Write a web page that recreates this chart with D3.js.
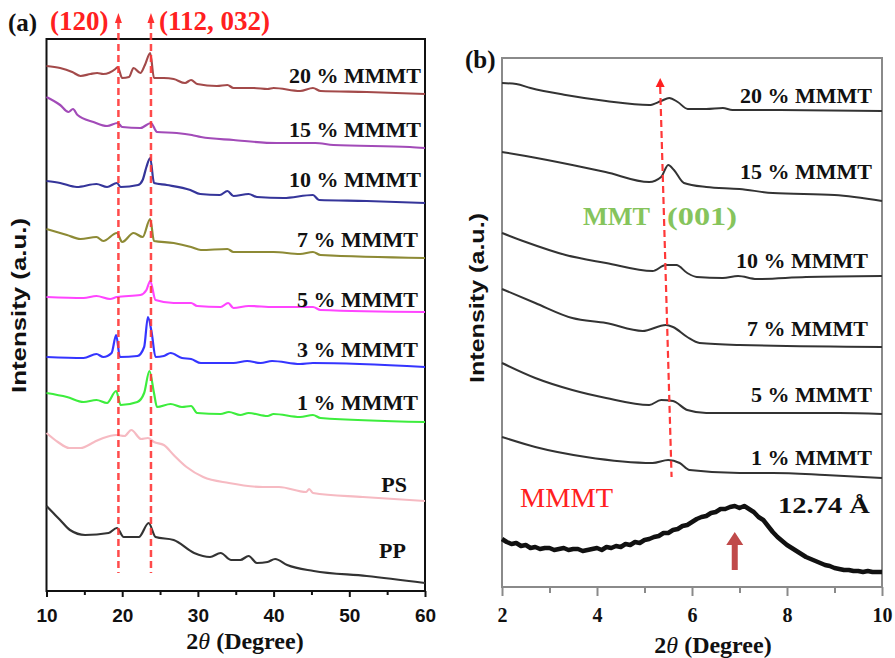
<!DOCTYPE html>
<html>
<head>
<meta charset="utf-8">
<script src="https://cdn.jsdelivr.net/npm/d3@7"></script>
<style>
  body { margin: 0; background: #fff; }
  svg { display: block; }
</style>
</head>
<body>
<svg id="chart" width="895" height="658"></svg>
<script>
// ---------- Panel (a): wide-angle XRD, 2θ = 10–60°, stacked traces (a.u.) ----------
const a20 = [[10,52.5],[11.8,52.3],[13.4,51.9],[14.5,51.5],[15.8,51.7],[16.7,51.8],[17.5,51.7],[19.1,52.2],[19.4,52.4],[20.0,51.3],[20.9,51.4],[21.5,52.3],[22.4,51.8],[23.0,52.6],[23.7,53.8],[24.2,51.3],[25.5,51.3],[26.8,51.2],[28.3,50.8],[29.1,51.1],[29.9,50.7],[32.5,50.5],[33.9,50.6],[34.7,50.3],[37.4,50.3],[39.2,50.2],[40.0,50.3],[43.5,50.0],[45.2,50.3],[46.2,50.0],[52.3,49.9],[60,49.7]];
const a15 = [[10,49.4],[11.8,48.6],[12.9,47.9],[13.5,48.2],[14.1,47.6],[16.2,46.9],[18.0,46.5],[19.4,46.8],[20.0,46.4],[22.4,46.3],[23.8,46.8],[24.6,45.9],[27.2,45.8],[29.2,45.6],[30.4,45.4],[34.7,45.1],[40.4,44.8],[45.5,44.8],[47.9,44.6],[58.0,44.4],[60,44.3]];
const a10 = [[10,41.0],[11.8,40.8],[14.0,40.4],[16.6,40.7],[18.0,40.4],[19.3,40.8],[19.8,40.4],[22.1,40.6],[22.7,41.1],[23.2,42.4],[23.7,43.3],[24.2,40.8],[25.9,40.6],[29.0,40.1],[30.3,39.7],[32.9,39.6],[33.9,40.0],[34.7,39.5],[36.7,39.7],[37.8,39.4],[41.3,39.3],[45.2,39.6],[46.0,39.1],[52.3,39.0],[60,38.8]];
const a7 = [[10,36.2],[12.7,35.6],[14.5,35.2],[16.6,35.4],[17.5,35.0],[19.3,35.8],[20.0,34.9],[21.5,35.8],[22.7,35.4],[23.7,37.2],[24.2,35.0],[26.8,34.8],[29.1,34.4],[30.4,34.1],[33.9,34.2],[34.7,33.9],[40.0,33.9],[43.5,33.7],[45.2,33.9],[46.2,33.6],[60,33.3]];
const a5 = [[10,29.4],[14.9,29.3],[16.6,29.5],[18.4,29.2],[19.3,29.4],[22.4,29.6],[23.2,30.1],[23.7,31.0],[24.4,29.1],[26.8,28.8],[29.1,28.8],[29.9,28.5],[33.0,28.4],[34.0,28.8],[34.7,28.3],[36.7,28.5],[40.0,28.4],[45.2,28.4],[46.2,28.1],[60,27.9]];
const a3 = [[10,23.4],[14.9,23.3],[16.6,23.7],[17.5,23.4],[18.6,23.8],[19.2,25.6],[19.7,23.4],[22.0,23.5],[22.9,24.4],[23.4,27.4],[23.9,25.8],[24.4,23.4],[25.5,23.5],[26.4,23.8],[27.9,23.3],[29.1,23.2],[30.4,22.8],[34.7,22.8],[36.5,23.0],[38.3,22.8],[39.8,23.0],[43.5,22.7],[45.2,22.8],[60,22.4]];
const a1 = [[10,19.8],[12.7,19.4],[14.9,18.9],[16.6,19.1],[18.0,18.8],[19.2,20.0],[19.8,18.6],[22.0,18.9],[22.9,19.8],[23.6,22.0],[24.2,19.8],[24.6,18.4],[26.4,18.7],[27.9,18.4],[29.1,18.5],[29.9,17.8],[33.0,17.7],[34.1,17.9],[35.6,17.6],[36.7,17.8],[39.2,17.5],[40.0,17.7],[43.5,17.4],[45.2,17.6],[46.2,17.3],[60,16.9]];
const aPS = [[10,15.8],[11.5,14.9],[13.0,14.3],[14.5,14.3],[16.3,14.9],[17.5,15.3],[19.2,15.6],[20.3,15.5],[21.2,16.1],[22.5,15.2],[23.4,15.3],[24.2,14.9],[25.5,14.6],[26.8,13.6],[28.5,12.4],[30.7,11.4],[34.1,10.8],[38.6,10.4],[40.7,10.4],[44.3,9.9],[44.7,10.2],[45.2,9.8],[51.8,9.4],[60,9.0]];
const aPP = [[10,8.5],[10.9,7.8],[11.8,7.1],[13.1,6.1],[15.1,5.6],[18.2,5.8],[19.3,6.3],[20.2,5.4],[22.2,5.4],[23.5,6.8],[24.4,5.4],[26.8,5.1],[29.5,3.8],[31.6,3.4],[33.0,3.8],[34.4,3.1],[35.6,3.1],[36.7,3.5],[37.8,2.8],[39.2,2.9],[40.2,3.2],[41.8,2.6],[45.3,2.0],[52.3,1.5],[60,0.8]];

const namesA  = ["20 % MMMT","15 % MMMT","10 % MMMT","7 % MMMT","5 % MMMT","3 % MMMT","1 % MMMT","PS","PP"];
const colorsA = ["#a34a4a","#a24bb8","#35359a","#8d8a35","#ff45ff","#3535ff","#3ded3d","#f6bac2","#333333"];
const seriesA = [a20, a15, a10, a7, a5, a3, a1, aPS, aPP];
const ticksA  = [10, 20, 30, 40, 50, 60];
const peaksA  = [19.5, 23.8];                 // (120) and (112, 032) reflections
const peakNamesA = ["(120)", "(112, 032)"];

// ---------- Panel (b): small-angle XRD, 2θ = 2–10° ----------
const b20 = [[2.0,50.4],[2.3,50.3],[2.6,49.9],[3.34,49.2],[4.19,48.6],[5.1,48.2],[5.35,48.6],[5.52,48.9],[5.7,48.5],[5.91,47.8],[6.3,47.8],[6.65,47.9],[6.85,47.7],[7.7,47.7],[10,47.6]];
const b15 = [[2.0,43.5],[2.5,43.1],[3.48,42.2],[4.18,41.5],[5.1,40.5],[5.35,41.0],[5.5,42.2],[5.62,41.7],[5.83,40.4],[6.3,40.0],[7.0,39.8],[7.7,39.4],[9.0,39.2],[10,38.6]];
const b10 = [[2.0,35.4],[2.5,34.5],[3.34,33.2],[4.19,32.4],[5.17,31.6],[5.45,32.2],[5.67,32.2],[5.9,31.4],[6.1,31.0],[6.65,30.9],[6.97,31.1],[7.36,30.8],[8.4,31.0],[10,31.1]];
const b7  = [[2.0,29.8],[2.7,28.4],[3.48,26.9],[4.19,26.4],[4.96,25.6],[5.45,26.2],[5.6,26.0],[5.9,25.0],[6.16,24.4],[7.0,24.2],[10,24.0]];
const b5  = [[2.0,22.4],[2.7,20.9],[3.48,19.7],[4.19,18.9],[5.1,18.2],[5.35,18.7],[5.6,18.6],[5.9,17.7],[6.3,17.4],[7.7,17.4],[9.1,17.4],[10,17.3]];
const b1  = [[2.0,15.0],[2.7,14.0],[3.77,13.0],[5.17,12.4],[5.5,12.7],[5.74,12.4],[5.95,11.7],[7.0,11.4],[7.7,11.4],[8.8,11.2],[10,10.9]];
const bMMMT = [[2.0,4.8],[2.1,4.5],[2.2,4.3],[2.3,4.4],[2.4,4.1],[2.5,4.2],[2.6,3.9],[2.7,4.0],[2.8,3.8],[2.9,3.9],[3.0,3.9],[3.1,3.7],[3.2,3.8],[3.3,3.9],[3.4,3.7],[3.5,3.8],[3.6,3.8],[3.7,3.6],[3.8,3.7],[3.9,3.8],[4.0,3.9],[4.1,3.7],[4.2,4.0],[4.3,3.9],[4.4,4.1],[4.5,4.0],[4.6,4.3],[4.7,4.2],[4.8,4.5],[4.9,4.4],[5.0,4.7],[5.1,4.8],[5.2,5.0],[5.3,5.1],[5.4,5.4],[5.5,5.4],[5.6,5.7],[5.7,5.8],[5.8,6.1],[5.9,6.2],[6.0,6.5],[6.1,6.8],[6.2,7.0],[6.3,7.1],[6.4,7.4],[6.5,7.5],[6.6,7.8],[6.7,7.8],[6.8,8.0],[6.9,8.1],[7.0,7.9],[7.1,8.1],[7.2,7.8],[7.3,7.5],[7.4,7.0],[7.5,6.7],[7.6,6.1],[7.7,5.5],[7.8,5.0],[7.9,4.6],[8.0,4.2],[8.1,3.9],[8.2,3.6],[8.3,3.3],[8.4,3.0],[8.5,2.8],[8.6,2.6],[8.7,2.4],[8.8,2.2],[8.9,2.1],[9.0,1.9],[9.1,1.8],[9.2,1.7],[9.3,1.7],[9.4,1.6],[9.5,1.6],[9.6,1.5],[9.7,1.6],[9.8,1.5],[9.9,1.5],[10.0,1.5]];

const namesB  = ["20 % MMMT","15 % MMMT","10 % MMMT","7 % MMMT","5 % MMMT","1 % MMMT"];
const seriesB = [b20, b15, b10, b7, b5, b1];
const ticksB  = [2, 4, 6, 8, 10];
const mmtPeakB = [[5.33, 50.9], [5.57, 11.0]];   // MMT (001) shift guide (top, bottom)
const clayPeak = 6.9;                              // pristine clay d001 = 12.74 Å

// ---------- layout ----------
const SERIF = "'Liberation Serif','Times New Roman',serif";
const SANS  = "'Liberation Sans',Arial,sans-serif";
const svg = d3.select("#chart");

const xA = d3.scaleLinear().domain([10, 60]).range([46.5, 425]);
const yA = d3.scaleLinear().domain([0, 55.2]).range([591, 39]);
const xB = d3.scaleLinear().domain([2, 10]).range([502, 882]);
const yB = d3.scaleLinear().domain([0, 52.9]).range([587, 58]);

// label baselines (intensity units) for the trace names
const labelLevelA = [50.8, 45.4, 40.4, 34.4, 28.4, 23.4, 18.1, 9.9, 3.3];
const labelRightA = [421, 421, 421, 418, 418, 418, 418, 407, 406];
const labelLevelB = [48.4, 40.8, 31.9, 25.1, 18.5, 12.2];
const labelRightB = [872, 872, 868, 868, 872, 872];

function drawPanel(x, y, frameColor, ticks, minorTicks, majorLen, minorLen, tickFont, tickY) {
  const [x0, x1] = x.range();
  const [yb, yt] = y.range();
  const g = svg.append("g");
  // minor ticks
  g.append("g").attr("transform", `translate(0,${yb})`)
    .call(d3.axisBottom(x).tickValues(minorTicks).tickSize(minorLen).tickFormat(""))
    .call(a => a.select(".domain").remove())
    .selectAll("line").attr("stroke", frameColor).attr("stroke-width", 2);
  // major ticks + labels
  const ax = g.append("g").attr("transform", `translate(0,${yb})`)
    .call(d3.axisBottom(x).tickValues(ticks).tickSize(majorLen).tickFormat(d3.format("d")));
  ax.select(".domain").remove();
  ax.selectAll("line").attr("stroke", frameColor).attr("stroke-width", 2);
  ax.selectAll("text").attr("y", tickY).attr("dy", null)
    .attr("fill", "#111").style("font", tickFont);
  // frame
  g.append("rect").attr("x", x0).attr("y", yt).attr("width", x1 - x0).attr("height", yb - yt)
    .attr("fill", "none").attr("stroke", frameColor).attr("stroke-width", 2);
  return g;
}

const line = (x, y, curve) => d3.line().x(d => x(d[0])).y(d => y(d[1])).curve(curve);

// ---- Panel (a) ----
drawPanel(xA, yA, "#111", ticksA, [15, 25, 35, 45, 55], 6, 4, `bold 19px ${SANS}`, 31);

const gA = svg.append("g");
seriesA.forEach((s, i) => {
  gA.append("path").datum(s)
    .attr("d", line(xA, yA, d3.curveMonotoneX))
    .attr("fill", "none").attr("stroke", colorsA[i]).attr("stroke-width", 2.2)
    .attr("stroke-linejoin", "round");
  gA.append("text").attr("x", labelRightA[i]).attr("y", yA(labelLevelA[i]))
    .attr("text-anchor", "end").attr("fill", "#111")
    .style("font", `bold 22px ${SERIF}`).text(namesA[i]);
});

// reflection guides with arrowheads
const guideTop = 56.9, guideTip = 57.8, guideBottom = 1.8;
peaksA.forEach(p => {
  gA.append("line").attr("x1", xA(p)).attr("x2", xA(p))
    .attr("y1", yA(guideTop)).attr("y2", yA(guideBottom))
    .attr("stroke", "#ff3838").attr("stroke-width", 2.5).attr("stroke-dasharray", "7,4")
    .attr("opacity", 0.9);
  gA.append("path")
    .attr("d", `M${xA(p)},${yA(guideTip)} L${xA(p) - 3.5},${yA(guideTop) + 1} L${xA(p) + 3.5},${yA(guideTop) + 1}Z`)
    .attr("fill", "#ff3030");
});
svg.append("text").attr("x", 50).attr("y", 30).attr("fill", "#ff2020")
  .style("font", `bold 27px ${SERIF}`).text(peakNamesA[0]);
svg.append("text").attr("x", 159).attr("y", 30).attr("fill", "#ff2020")
  .style("font", `bold 27px ${SERIF}`).text(peakNamesA[1]);

svg.append("text").attr("x", 8).attr("y", 31).attr("fill", "#111")
  .style("font", `bold 25px ${SERIF}`).text("(a)");

svg.append("text").attr("transform", "translate(26,305.5) rotate(-90)")
  .attr("text-anchor", "middle").attr("fill", "#111")
  .attr("textLength", 175).attr("lengthAdjust", "spacingAndGlyphs")
  .style("font", `bold 21px ${SANS}`).text("Intensity (a.u.)");

const tA = svg.append("text").attr("x", 245).attr("y", 649).attr("text-anchor", "middle")
  .attr("fill", "#111").style("font", `bold 24px ${SERIF}`);
tA.append("tspan").text("2");
tA.append("tspan").style("font-style", "italic").style("font-weight", "normal").text("θ");
tA.append("tspan").text(" (Degree)");

// ---- Panel (b) ----
drawPanel(xB, yB, "#8a8a8a", ticksB, [3, 5, 7, 9], 9, 6, `bold 20px ${SERIF}`, 35);

const gB = svg.append("g");
seriesB.forEach((s, i) => {
  gB.append("path").datum(s)
    .attr("d", line(xB, yB, d3.curveMonotoneX))
    .attr("fill", "none").attr("stroke", "#333").attr("stroke-width", 2)
    .attr("stroke-linejoin", "round");
  gB.append("text").attr("x", labelRightB[i]).attr("y", yB(labelLevelB[i]))
    .attr("text-anchor", "end").attr("fill", "#111")
    .style("font", `bold 22px ${SERIF}`).text(namesB[i]);
});
gB.append("path").datum(bMMMT)
  .attr("d", line(xB, yB, d3.curveLinear))
  .attr("fill", "none").attr("stroke", "#111").attr("stroke-width", 4.5)
  .attr("stroke-linejoin", "round");

// MMT (001) guide
const [gt, gbm] = mmtPeakB;
gB.append("line").attr("x1", xB(gt[0])).attr("y1", yB(gt[1]) + 9)
  .attr("x2", xB(gbm[0])).attr("y2", yB(gbm[1]))
  .attr("stroke", "#ff3838").attr("stroke-width", 2.2).attr("stroke-dasharray", "7,4");
gB.append("path")
  .attr("d", `M${xB(gt[0])},${yB(gt[1])} L${xB(gt[0]) - 4.5},${yB(gt[1]) + 9} L${xB(gt[0]) + 4.5},${yB(gt[1]) + 9}Z`)
  .attr("fill", "#ff2020");

svg.append("text").attr("x", 583).attr("y", 225).attr("fill", "#86c45c")
  .attr("textLength", 67).attr("lengthAdjust", "spacingAndGlyphs")
  .style("font", `bold 25px ${SERIF}`).text("MMT");
svg.append("text").attr("x", 667).attr("y", 225).attr("fill", "#86c45c")
  .attr("textLength", 70).attr("lengthAdjust", "spacingAndGlyphs")
  .style("font", `bold 25px ${SERIF}`).text("(001)");

svg.append("text").attr("x", 520).attr("y", 507).attr("fill", "#ff2020")
  .attr("textLength", 93).attr("lengthAdjust", "spacingAndGlyphs")
  .style("font", `27px ${SERIF}`).text("MMMT");
svg.append("text").attr("x", 778).attr("y", 513).attr("fill", "#111")
  .attr("textLength", 92).attr("lengthAdjust", "spacingAndGlyphs")
  .style("font", `bold 24px ${SERIF}`).text("12.74 Å");

// clay d001 marker arrow
const ax0 = xB(clayPeak);
const tipY = yB(5.5), headY = yB(4.2), tailY = yB(1.7);
svg.append("path")
  .attr("d", `M${ax0},${tipY} L${ax0 - 8.5},${headY} L${ax0 - 3},${headY} L${ax0 - 3},${tailY} L${ax0 + 3},${tailY} L${ax0 + 3},${headY} L${ax0 + 8.5},${headY}Z`)
  .attr("fill", "#c04a4a");

svg.append("text").attr("x", 465).attr("y", 68).attr("fill", "#111")
  .style("font", `bold 25px ${SERIF}`).text("(b)");

svg.append("text").attr("transform", "translate(484,298) rotate(-90)")
  .attr("text-anchor", "middle").attr("fill", "#111")
  .attr("textLength", 170).attr("lengthAdjust", "spacingAndGlyphs")
  .style("font", `bold 21px ${SANS}`).text("Intensity (a.u.)");

const tB = svg.append("text").attr("x", 713).attr("y", 653).attr("text-anchor", "middle")
  .attr("fill", "#111").style("font", `bold 24px ${SERIF}`);
tB.append("tspan").text("2");
tB.append("tspan").style("font-style", "italic").style("font-weight", "normal").text("θ");
tB.append("tspan").text(" (Degree)");
</script>
</body>
</html>
